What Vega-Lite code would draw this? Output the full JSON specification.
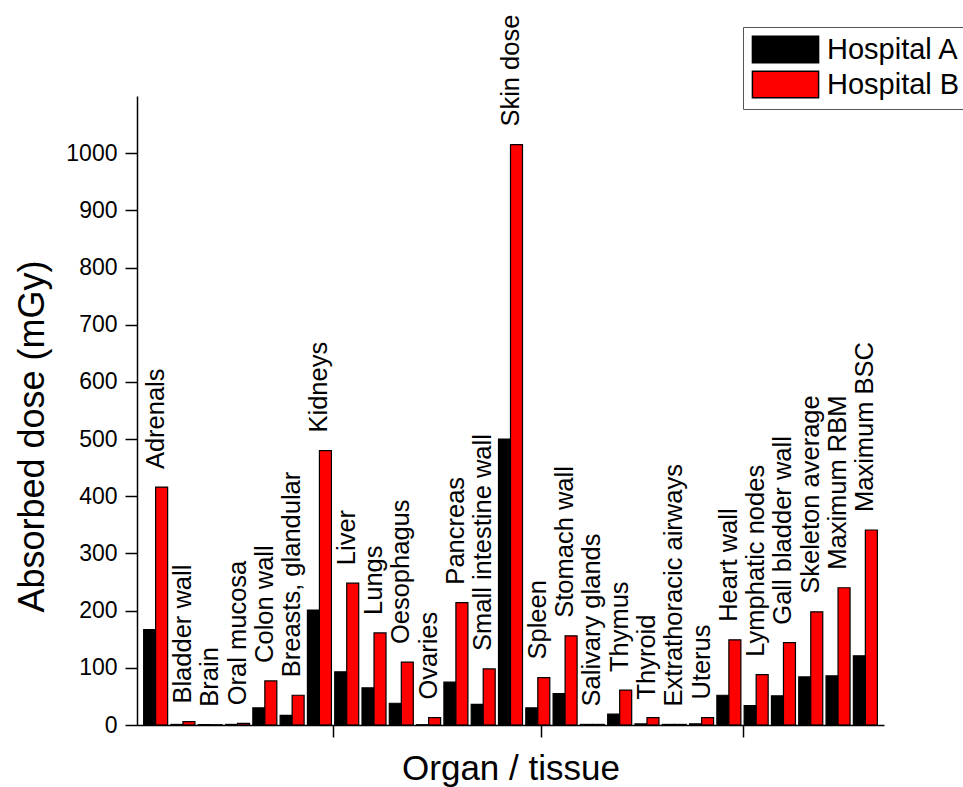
{
  "$schema": "https://vega.github.io/schema/vega-lite/v6.json",
  "width": 747,
  "height": 629,
  "autosize": {"type": "none"},
  "padding": {"left": 137, "top": 96, "right": 79, "bottom": 62},
  "background": "white",
  "config": {
    "view": {"stroke": null},
    "font": "Liberation Sans",
    "axis": {"grid": false, "domainColor": "black", "domainWidth": 1.5, "tickColor": "black", "tickWidth": 1.5, "labelColor": "black", "titleColor": "black", "labelFont": "Liberation Sans", "titleFont": "Liberation Sans", "titleFontWeight": "normal"}
  },
  "data": {
    "values": [
      {"n": 1, "organ": "Adrenals", "hospital": "Hospital A", "dose": 167},
      {"n": 1, "organ": "Adrenals", "hospital": "Hospital B", "dose": 416},
      {"n": 2, "organ": "Bladder wall", "hospital": "Hospital A", "dose": 1},
      {"n": 2, "organ": "Bladder wall", "hospital": "Hospital B", "dose": 6},
      {"n": 3, "organ": "Brain", "hospital": "Hospital A", "dose": 0.5},
      {"n": 3, "organ": "Brain", "hospital": "Hospital B", "dose": 0.5},
      {"n": 4, "organ": "Oral mucosa", "hospital": "Hospital A", "dose": 1},
      {"n": 4, "organ": "Oral mucosa", "hospital": "Hospital B", "dose": 3},
      {"n": 5, "organ": "Colon wall", "hospital": "Hospital A", "dose": 30},
      {"n": 5, "organ": "Colon wall", "hospital": "Hospital B", "dose": 77},
      {"n": 6, "organ": "Breasts, glandular", "hospital": "Hospital A", "dose": 17},
      {"n": 6, "organ": "Breasts, glandular", "hospital": "Hospital B", "dose": 52},
      {"n": 7, "organ": "Kidneys", "hospital": "Hospital A", "dose": 201},
      {"n": 7, "organ": "Kidneys", "hospital": "Hospital B", "dose": 480},
      {"n": 8, "organ": "Liver", "hospital": "Hospital A", "dose": 93},
      {"n": 8, "organ": "Liver", "hospital": "Hospital B", "dose": 248},
      {"n": 9, "organ": "Lungs", "hospital": "Hospital A", "dose": 65},
      {"n": 9, "organ": "Lungs", "hospital": "Hospital B", "dose": 161},
      {"n": 10, "organ": "Oesophagus", "hospital": "Hospital A", "dose": 38},
      {"n": 10, "organ": "Oesophagus", "hospital": "Hospital B", "dose": 110},
      {"n": 11, "organ": "Ovaries", "hospital": "Hospital A", "dose": 0.5},
      {"n": 11, "organ": "Ovaries", "hospital": "Hospital B", "dose": 13},
      {"n": 12, "organ": "Pancreas", "hospital": "Hospital A", "dose": 75},
      {"n": 12, "organ": "Pancreas", "hospital": "Hospital B", "dose": 214},
      {"n": 13, "organ": "Small intestine wall", "hospital": "Hospital A", "dose": 36},
      {"n": 13, "organ": "Small intestine wall", "hospital": "Hospital B", "dose": 98},
      {"n": 14, "organ": "Skin dose", "hospital": "Hospital A", "dose": 500},
      {"n": 14, "organ": "Skin dose", "hospital": "Hospital B", "dose": 1015},
      {"n": 15, "organ": "Spleen", "hospital": "Hospital A", "dose": 30},
      {"n": 15, "organ": "Spleen", "hospital": "Hospital B", "dose": 83},
      {"n": 16, "organ": "Stomach wall", "hospital": "Hospital A", "dose": 55},
      {"n": 16, "organ": "Stomach wall", "hospital": "Hospital B", "dose": 156},
      {"n": 17, "organ": "Salivary glands", "hospital": "Hospital A", "dose": 1},
      {"n": 17, "organ": "Salivary glands", "hospital": "Hospital B", "dose": 1},
      {"n": 18, "organ": "Thymus", "hospital": "Hospital A", "dose": 19},
      {"n": 18, "organ": "Thymus", "hospital": "Hospital B", "dose": 61},
      {"n": 19, "organ": "Thyroid", "hospital": "Hospital A", "dose": 2},
      {"n": 19, "organ": "Thyroid", "hospital": "Hospital B", "dose": 13},
      {"n": 20, "organ": "Extrathoracic airways", "hospital": "Hospital A", "dose": 1},
      {"n": 20, "organ": "Extrathoracic airways", "hospital": "Hospital B", "dose": 1},
      {"n": 21, "organ": "Uterus", "hospital": "Hospital A", "dose": 2},
      {"n": 21, "organ": "Uterus", "hospital": "Hospital B", "dose": 13},
      {"n": 22, "organ": "Heart wall", "hospital": "Hospital A", "dose": 52},
      {"n": 22, "organ": "Heart wall", "hospital": "Hospital B", "dose": 149},
      {"n": 23, "organ": "Lymphatic nodes", "hospital": "Hospital A", "dose": 34},
      {"n": 23, "organ": "Lymphatic nodes", "hospital": "Hospital B", "dose": 88},
      {"n": 24, "organ": "Gall bladder wall", "hospital": "Hospital A", "dose": 51},
      {"n": 24, "organ": "Gall bladder wall", "hospital": "Hospital B", "dose": 144},
      {"n": 25, "organ": "Skeleton average", "hospital": "Hospital A", "dose": 84},
      {"n": 25, "organ": "Skeleton average", "hospital": "Hospital B", "dose": 198},
      {"n": 26, "organ": "Maximum RBM", "hospital": "Hospital A", "dose": 86},
      {"n": 26, "organ": "Maximum RBM", "hospital": "Hospital B", "dose": 240},
      {"n": 27, "organ": "Maximum BSC", "hospital": "Hospital A", "dose": 121},
      {"n": 27, "organ": "Maximum BSC", "hospital": "Hospital B", "dose": 341}
    ]
  },
  "encoding": {
    "x": {
      "field": "n", "type": "quantitative",
      "scale": {"domain": [0.5, 27.5], "nice": false, "zero": false},
      "axis": {"values": [7.5, 15.1, 22.5], "labels": false, "tickSize": 12, "zindex": 1, "title": "Organ / tissue", "titleFontSize": 35, "titlePadding": 14}
    }
  },
  "layer": [
    {
      "transform": [{"filter": "datum.hospital === 'Hospital A'"}],
      "mark": {"type": "bar", "width": 12, "xOffset": -6, "stroke": "black", "strokeWidth": 1.2},
      "encoding": {
        "y": {
          "field": "dose", "type": "quantitative", "stack": null,
          "scale": {"domain": [0, 1100], "nice": false},
          "axis": {
            "values": [0, 50, 100, 150, 200, 250, 300, 350, 400, 450, 500, 550, 600, 650, 700, 750, 800, 850, 900, 950, 1000, 1050],
            "labelExpr": "datum.value % 100 === 0 ? format(datum.value, 'd') : ''",
            "tickSize": {"condition": {"test": "datum.value % 100 === 0", "value": 12}, "value": 5},
            "labelFontSize": 23, "labelPadding": 8,
            "title": "Absorbed dose (mGy)", "titleFontSize": 36, "titlePadding": 14, "titleY": 340
          }
        },
        "fill": {
          "field": "hospital", "type": "nominal",
          "scale": {"domain": ["Hospital A", "Hospital B"], "range": ["#000000", "#ff0000"]},
          "legend": {
            "title": null, "orient": "none", "legendX": 606, "legendY": -69,
            "symbolType": "M-2.5,-1H2.5V1H-2.5Z", "symbolSize": 700,
            "symbolStrokeColor": "black", "symbolStrokeWidth": 1.5, "symbolOffset": 20,
            "labelFontSize": 29, "labelFont": "Liberation Sans", "labelColor": "black",
            "labelOffset": 27, "rowPadding": 2,
            "strokeColor": "#555555", "fillColor": "white", "padding": 8
          }
        }
      }
    },
    {
      "transform": [{"filter": "datum.hospital === 'Hospital B'"}],
      "mark": {"type": "bar", "width": 12, "xOffset": 6, "stroke": "black", "strokeWidth": 1.2},
      "encoding": {
        "y": {"field": "dose", "type": "quantitative", "stack": null},
        "fill": {"field": "hospital", "type": "nominal"}
      }
    },
    {
      "mark": {"type": "text", "angle": 270, "align": "left", "baseline": "middle", "dx": 18, "fontSize": 25.5, "font": "Liberation Sans", "color": "black"},
      "encoding": {
        "y": {"aggregate": "max", "field": "dose", "type": "quantitative"},
        "text": {"field": "organ", "type": "nominal"}
      }
    }
  ]
}
